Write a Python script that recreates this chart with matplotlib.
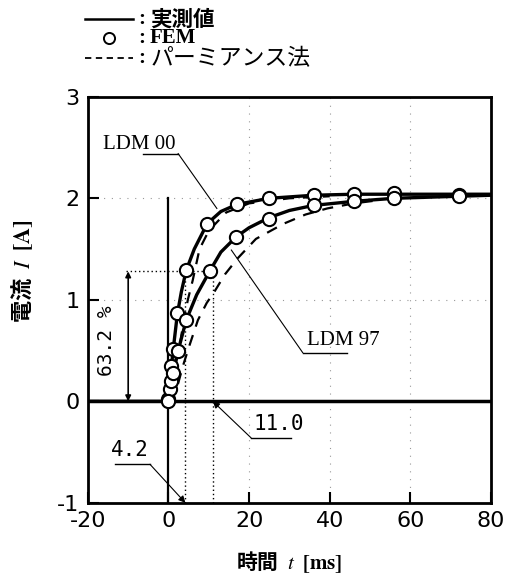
import matplotlib
matplotlib.use('Agg')
from matplotlib import pyplot as plt
from matplotlib.lines import Line2D

plt.rcParams['font.family'] = ['DejaVu Sans']
plt.rcParams['axes.unicode_minus'] = False
plt.rcParams['mathtext.fontset'] = 'stix'

# measured current (solid)
t_meas_00 = [-20, 0, 0.3, 0.6, 1.2, 2.2, 3.2, 4.4, 6.4, 9.6, 13, 17, 25, 36, 46, 56, 72, 80]
i_meas_00 = [0, 0, 0.1, 0.3, 0.52, 0.86, 1.08, 1.29, 1.5, 1.75, 1.87, 1.94, 2.0, 2.03, 2.04, 2.04, 2.04, 2.04]
t_meas_97 = [0, 0.5, 1.2, 2.4, 4.4, 7, 10.2, 13, 16.8, 20, 25, 30, 36, 46, 56, 72, 80]
i_meas_97 = [0, 0.18, 0.3, 0.5, 0.8, 1.05, 1.28, 1.47, 1.62, 1.71, 1.81, 1.88, 1.93, 1.97, 2.0, 2.02, 2.03]

# FEM (circles)
t_fem_00 = [0, 0.3, 0.6, 1.2, 2.2, 4.4, 9.6, 17, 25, 36, 46, 56, 72]
i_fem_00 = [0.02, 0.12, 0.35, 0.52, 0.87, 1.29, 1.75, 1.94, 2.0, 2.03, 2.04, 2.05, 2.03]
t_fem_97 = [0, 0.5, 1.2, 2.4, 4.4, 10.2, 16.8, 25, 36, 46, 56, 72]
i_fem_97 = [0.0, 0.2, 0.28, 0.5, 0.8, 1.28, 1.62, 1.80, 1.93, 1.97, 2.0, 2.02]

# permeance method (dashed)
t_perm_00 = [0, 1.5, 2.8, 3.6, 4.8, 6, 7.7, 10, 14.3, 20, 30, 40]
i_perm_00 = [0, 0.32, 0.55, 0.75, 1.0, 1.19, 1.5, 1.68, 1.86, 1.95, 2.0, 2.02]
t_perm_97 = [0, 2, 3.6, 5.2, 7.3, 9.5, 11.4, 14, 17.2, 21.7, 28.6, 34, 39.4, 46, 52]
i_perm_97 = [0, 0.12, 0.35, 0.55, 0.80, 0.97, 1.08, 1.25, 1.41, 1.60, 1.75, 1.84, 1.90, 1.95, 1.98]

tau_00, tau_97 = 4.2, 11.0
i_632 = 1.28

xticks = [-20, 0, 20, 40, 60, 80]
yticks = [-1, 0, 1, 2, 3]
legend_labels = ['実測値', 'FEM', 'パーミアンス法']

fig = plt.figure(figsize=(5.14, 5.76), dpi=100)
ax = fig.add_axes([0.171, 0.127, 0.784, 0.705])

ax.set_xlim(-20, 80)
ax.set_ylim(-1, 3)
ax.set_xticks(xticks)
ax.set_yticks(yticks)
ax.tick_params(direction='in', length=8, width=1.5, labelsize=16, pad=6)
for s in ax.spines.values():
    s.set_linewidth(2)

# sparse faint grid
for yv in [1, 2]:
    ax.axhline(yv, color='#999999', lw=0.8, ls=(0, (1, 6)), zorder=0)
for xv in [20, 40, 60]:
    ax.axvline(xv, color='#999999', lw=0.8, ls=(0, (1, 6)), zorder=0)

ax.axhline(0, color='black', lw=2.5, zorder=2)
ax.plot([0, 0], [-1, 2], color='black', lw=1.6, zorder=2)

# 63.2 % helper lines
ax.plot([-10.5, tau_97], [i_632, i_632], color='black', lw=1, ls=(0, (1, 2)))
ax.plot([tau_00, tau_00], [-1, i_632], color='black', lw=1, ls=(0, (1, 2)))
ax.plot([tau_97, tau_97], [-1, i_632], color='black', lw=1, ls=(0, (1, 2)))
ax.annotate('', xy=(-10, i_632), xytext=(-10, 0),
            arrowprops=dict(arrowstyle='<|-|>', color='black', lw=1.2,
                            mutation_scale=8, shrinkA=0, shrinkB=0))
ax.text(-15.3, 0.6, '63.2 %', rotation=90, ha='center', va='center',
        fontsize=14, family='DejaVu Sans Mono')

ax.plot(t_perm_00, i_perm_00, color='black', lw=1.6, ls=(0, (5, 4)), zorder=3)
ax.plot(t_perm_97, i_perm_97, color='black', lw=1.6, ls=(0, (5, 4)), zorder=3)
ax.plot(t_meas_00, i_meas_00, color='black', lw=2.4, zorder=4)
ax.plot(t_meas_97, i_meas_97, color='black', lw=2.4, zorder=4)
ax.plot(t_fem_00, i_fem_00, 'o', mfc='white', mec='black', mew=1.5, ms=9.5, zorder=5)
ax.plot(t_fem_97, i_fem_97, 'o', mfc='white', mec='black', mew=1.5, ms=9.5, zorder=5)

# labels with leaders
serif = ['Liberation Serif', 'DejaVu Serif']
mono = 'DejaVu Sans Mono'
ax.text(-7.2, 2.53, 'LDM 00', fontsize=15, family=serif, ha='center', va='center')
ax.plot([-6.3, 2.4], [2.44, 2.44], color='black', lw=1)
ax.plot([2.4, 12], [2.44, 1.9], color='black', lw=0.8)

ax.text(43.3, 0.6, 'LDM 97', fontsize=15, family=serif, ha='center', va='center')
ax.plot([33.3, 44.4], [0.48, 0.48], color='black', lw=1)
ax.plot([33.3, 15.6], [0.48, 1.49], color='black', lw=0.8)

ax.text(27.3, -0.22, '11.0', fontsize=15, family=mono, ha='center', va='center')
ax.annotate('', xy=(tau_97, 0), xytext=(20.5, -0.36),
            arrowprops=dict(arrowstyle='-|>', color='black', lw=0.8,
                            mutation_scale=10, shrinkA=0, shrinkB=0))
ax.plot([20.5, 30.4], [-0.36, -0.36], color='black', lw=1)

ax.text(-9.5, -0.48, '4.2', fontsize=15, family=mono, ha='center', va='center')
ax.annotate('', xy=(tau_00, -1), xytext=(-4.6, -0.62),
            arrowprops=dict(arrowstyle='-|>', color='black', lw=0.8,
                            mutation_scale=10, shrinkA=0, shrinkB=0))
ax.plot([-13.3, -4.6], [-0.62, -0.62], color='black', lw=1)

lab_font = ['Noto Sans CJK JP', 'DejaVu Sans']
ax.set_ylabel(r'電流  $I$  $\mathbf{[A]}$', fontsize=16, family=lab_font, fontweight='bold')
ax.set_xlabel(r'時間  $t$  $\mathbf{[ms]}$', fontsize=15, family=lab_font, fontweight='bold')
ax.yaxis.set_label_coords(-0.13, 0.57)
ax.xaxis.set_label_coords(0.5, -0.115)

# legend drawn above the axes
row_y = [0.967, 0.934, 0.899]
hx0, hx1 = 0.165, 0.259
fig.add_artist(Line2D([hx0, hx1], [row_y[0]] * 2, transform=fig.transFigure,
                      color='black', lw=1.8))
fig.add_artist(Line2D([(hx0 + hx1) / 2], [row_y[1]], transform=fig.transFigure,
                      ls='none', marker='o', mfc='white', mec='black', ms=8, mew=1.4))
fig.add_artist(Line2D([hx0, hx1], [row_y[2]] * 2, transform=fig.transFigure,
                      color='black', lw=1.3, ls=(0, (3.5, 2.5))))
for yy in row_y:
    fig.text(0.268, yy, ':', fontsize=15, family='Liberation Serif', fontweight='bold',
             ha='left', va='center')
fig.text(0.292, row_y[0], legend_labels[0], fontsize=15.5, family='Noto Sans CJK JP',
         fontweight='bold', ha='left', va='center')
fig.text(0.292, row_y[1], legend_labels[1], fontsize=15, family='Liberation Serif',
         fontweight='bold', ha='left', va='center')
fig.text(0.292, row_y[2], legend_labels[2], fontsize=16.5, family='Noto Sans CJK JP',
         ha='left', va='center')

fig.savefig('out.png', dpi=100)
